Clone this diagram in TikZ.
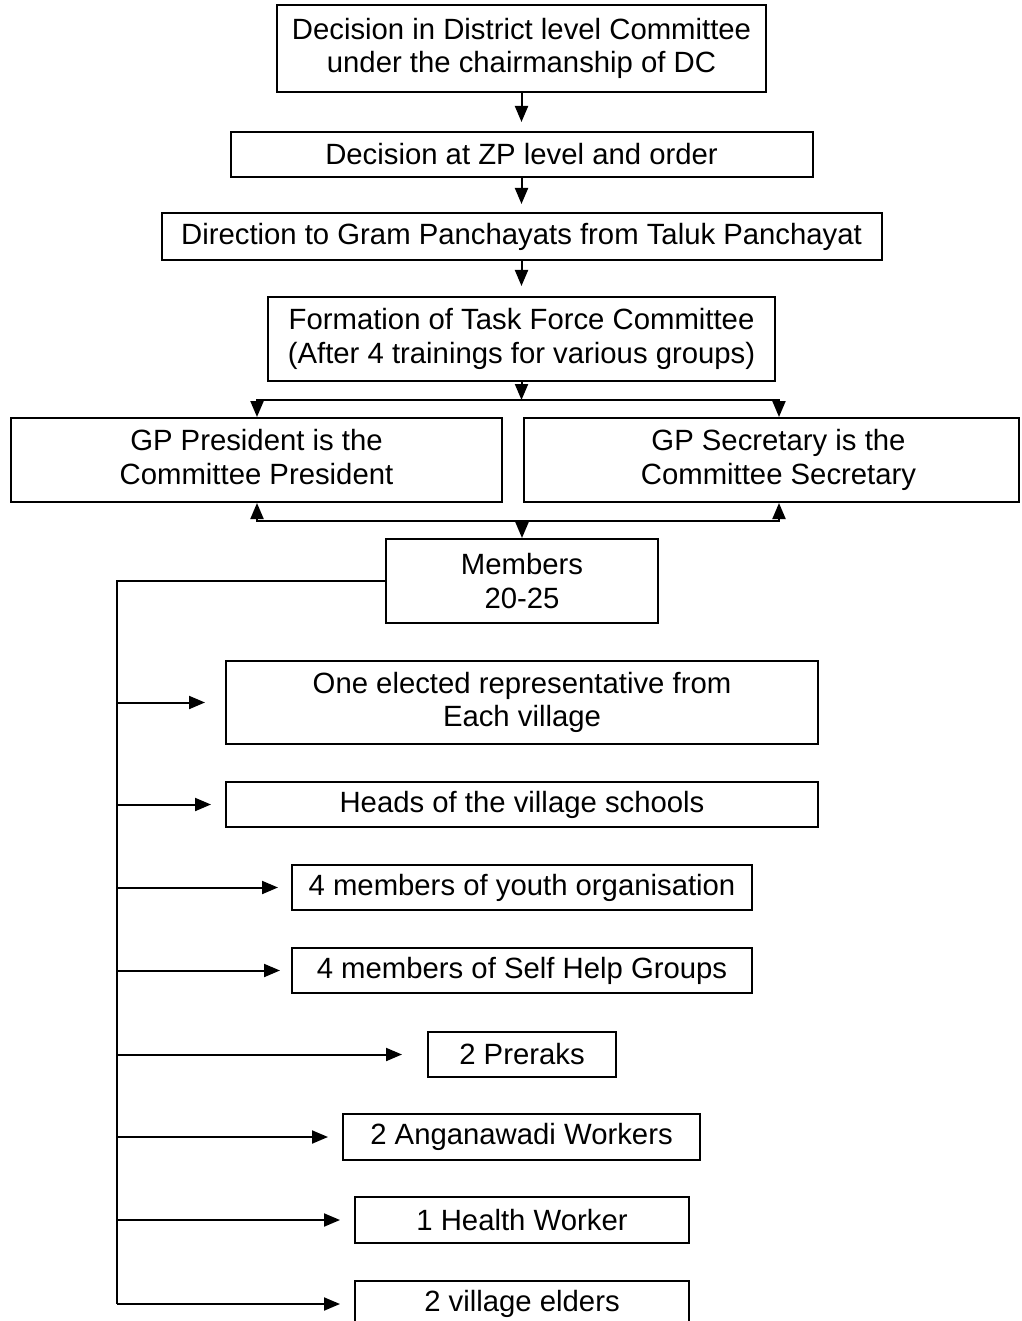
\documentclass[tikz,border=0pt]{standalone}
\usepackage{fontspec}
\setmainfont{Liberation Sans}
\usetikzlibrary{arrows.meta}
\begin{document}
\begin{tikzpicture}[x=1pt,y=-1pt,
  box/.style={draw, line width=2pt, align=center, inner sep=0pt,
    font=\fontsize{29.3}{33.3}\selectfont},
  arr/.style={line width=2pt, -{Triangle[length=16pt,width=13pt]}},
  conn/.style={line width=2pt, line cap=rect}]
\useasboundingbox (0,0) rectangle (1021,1321);
\fill[white] (0,0) rectangle (1021,1321);
\begin{scope}
\clip (0,0) rectangle (1021,1321);
% main chain
\node[box, minimum width=489, minimum height=87] (n1) at (521.5,48.5)
  {Decision in District level Committee\\under the chairmanship of DC};
\node[box, minimum width=582, minimum height=45] (n2) at (521.5,154.5)
  {Decision at ZP level and order};
\node[box, minimum width=720, minimum height=47] (n3) at (521.5,236.5)
  {Direction to Gram Panchayats from Taluk Panchayat};
\node[box, minimum width=507, minimum height=84] (n4) at (521.5,339)
  {Formation of Task Force Committee\\(After 4 trainings for various groups)};
\node[box, minimum width=491, minimum height=84] (gpL) at (256.5,460)
  {GP President is the\\Committee President\vphantom{y}};
\node[box, minimum width=495, minimum height=84] (gpR) at (771.5,460)
  {\hspace*{14pt}GP Secretary is the\\\hspace*{14pt}Committee Secretary};
\node[box, minimum width=272, minimum height=84] (mem) at (522,581)
  {Members\\20-25};
% members list
\node[box, minimum width=592, minimum height=83] (a) at (522,702.5)
  {One elected representative from\\Each village};
\node[box, minimum width=592, minimum height=45] (b) at (522,804.5)
  {Heads of the village schools};
\node[box, minimum width=460, minimum height=45] (c) at (522,887.5)
  {4 members of youth organisation};
\node[box, minimum width=460, minimum height=45] (d) at (522,970.5)
  {4 members of Self Help Groups};
\node[box, minimum width=188, minimum height=45] (e) at (522,1054.5)
  {2 Preraks};
\node[box, minimum width=357, minimum height=46] (f) at (521.5,1137)
  {2 Anganawadi Workers};
\node[box, minimum width=334, minimum height=46] (g) at (522,1220)
  {1 Health Worker};
\node[box, minimum width=334, minimum height=46] (h) at (522,1304)
  {2 village elders};
% chain arrows
\draw[arr, shorten >=9pt] (n1.south) -- (n1.south |- n2.north);
\draw[arr, shorten >=8pt] (n2.south) -- (n2.south |- n3.north);
\draw[arr, shorten >=10pt] (n3.south) -- (n3.south |- n4.north);
% split to GP boxes
\coordinate (tl) at (257,400);
\coordinate (tr) at (779,400);
\coordinate (bl) at (257,521);
\coordinate (br) at (779,521);
\draw[arr] (n4.south) -- (n4.south |- tl);
\draw[conn] (tl) -- (tr);
\draw[arr] (tl) -- (tl |- gpL.north);
\draw[arr] (tr) -- (tr |- gpR.north);
\draw[conn] (bl) -- (br);
\draw[arr] (bl) -- (bl |- gpL.south);
\draw[arr] (br) -- (br |- gpR.south);
\draw[arr] (mem.north |- bl) -- (mem.north);
% trunk
\coordinate (tb) at (117,1303);
\draw[conn] (mem.west) -| (tb);
\draw[arr, shorten >=20pt] (tb |- a.west) -- (a.west);
\draw[arr, shorten >=14pt] (tb |- b.west) -- (b.west);
\draw[arr, shorten >=13pt] (tb |- c.west) -- (c.west);
\draw[arr, shorten >=11pt] (tb |- d.west) -- (d.west);
\draw[arr, shorten >=25pt] (tb |- e.west) -- (e.west);
\draw[arr, shorten >=14pt] (tb |- f.west) -- (f.west);
\draw[arr, shorten >=14pt] (tb |- g.west) -- (g.west);
\draw[arr, shorten >=14pt] (tb |- h.west) -- (h.west);
\end{scope}
\end{tikzpicture}
\end{document}
